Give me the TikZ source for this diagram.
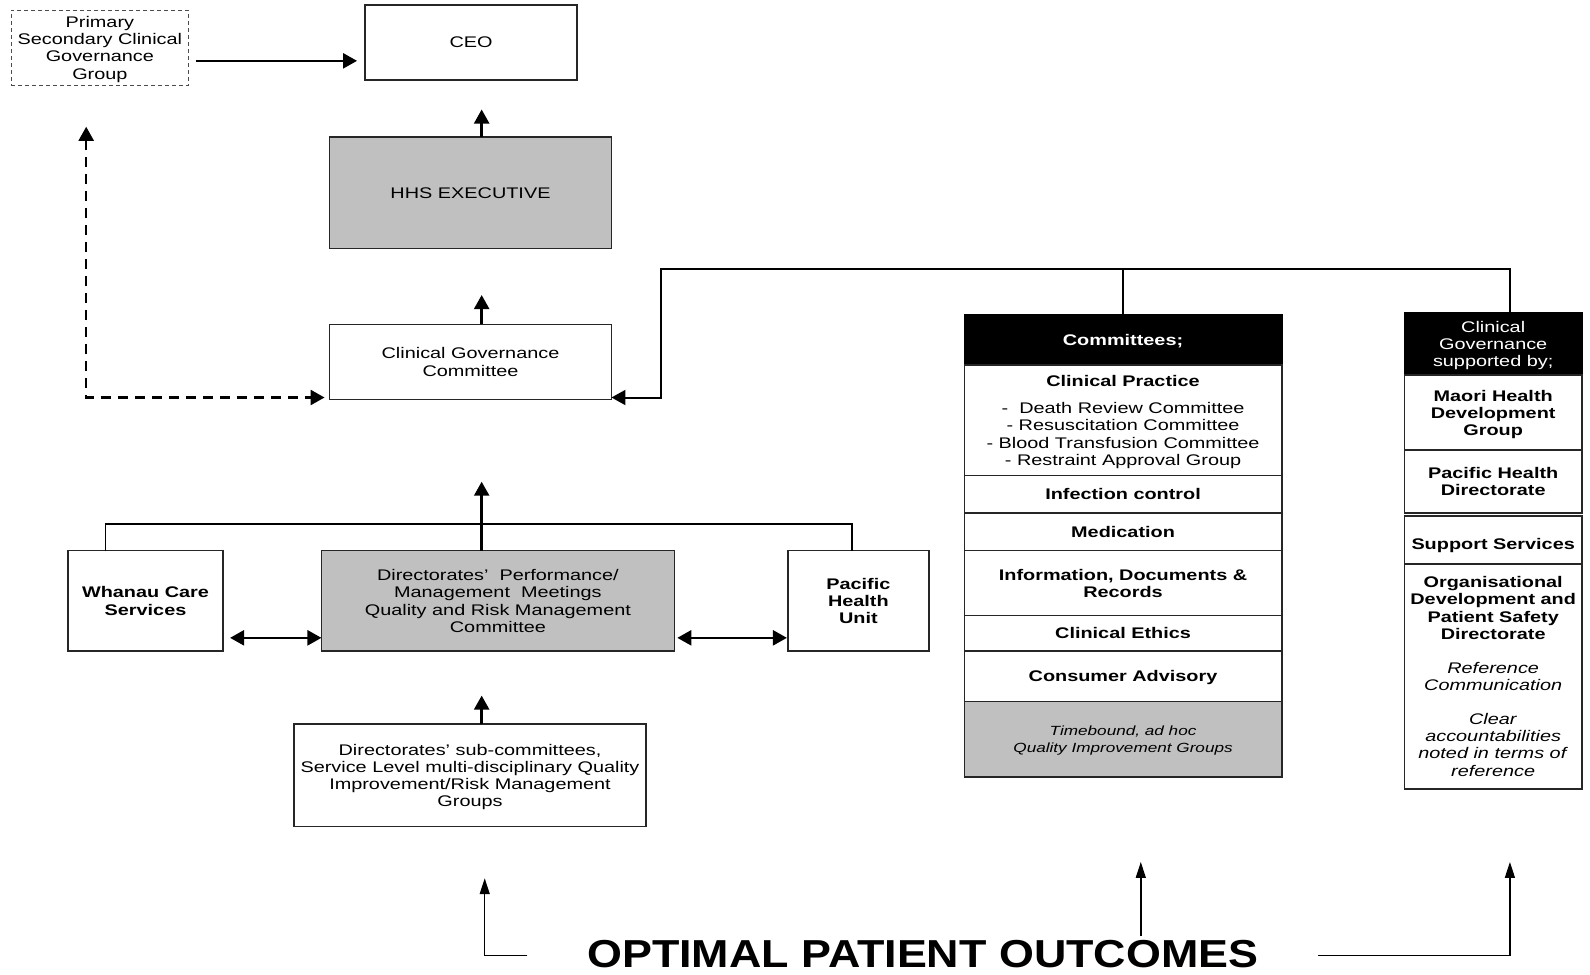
\documentclass[tikz,border=0pt]{standalone}
\usepackage{fontspec}
\setmainfont{Liberation Sans}[FakeStretch=1.29]
\newfontfamily\bigfont{Liberation Sans}[FakeStretch=1.15]
\usetikzlibrary{arrows.meta,calc}
\definecolor{boxgray}{RGB}{192,192,192}
\begin{document}
\begin{tikzpicture}[x=0.5071pt,y=-0.5071pt,
  every node/.style={inner sep=0pt, outer sep=0pt},
  rect/.style n args={4}{at={({(#1+#3)/2},{(#2+#4)/2})}, minimum width={(#3-#1)*0.5071pt}, minimum height={(#4-#2)*0.5071pt}},
  txt/.style={align=center, text depth=0pt, font=\fontsize{7.7}{8.6}\selectfont},
  bld/.style={font=\fontsize{7.7}{8.6}\selectfont\bfseries},
  bx/.style={draw=black!85, line width=0.75pt, txt},
  gbx/.style={bx, fill=boxgray},
  hbx/.style={draw=black, fill=black, text=white, line width=0.75pt, txt},
  ln/.style={line width=0.8pt, draw=black},
  arr/.style={line width=1.2pt, -{Triangle[length=7pt,width=7.5pt]}},
  darr/.style={line width=1.2pt, {Triangle[length=7pt,width=7.5pt]}-{Triangle[length=7pt,width=7.5pt]}},
  dsh/.style={line width=1.2pt, dash pattern=on 5pt off 3.5pt, {Triangle[length=7pt,width=7.5pt]}-{Triangle[length=7pt,width=7.5pt]}},
  tarr/.style={line width=0.7pt, -{Triangle[length=8pt,width=5pt]}},
]
\useasboundingbox (0,0) rectangle (1568,961);

% helper coordinates
\coordinate (y60) at (0,60);
\coordinate (y265) at (0,265);
\coordinate (y392) at (0,392);
\coordinate (y517) at (0,517);
\coordinate (y629) at (0,629);
\coordinate (x85) at (85,0);
\coordinate (x104) at (104,0);
\coordinate (x475) at (475,0);
\coordinate (x478) at (478,0);
\coordinate (x652) at (652,0);
\coordinate (x840) at (840,0);
\coordinate (x1125) at (1125,0);
\coordinate (x1489) at (1489,0);
\coordinate (bl) at (520,942);
\coordinate (br) at (1300,942);

% left / centre nodes
\node[bx, draw=black!70, line width=0.5pt, dash pattern=on 2pt off 1.5pt, rect={11}{10}{186}{84}] (prim) {Primary\\Secondary Clinical\\Governance\\Group};
\node[bx, rect={360}{5}{569}{79}] (ceo) {CEO};
\node[gbx, rect={325}{135}{603}{245}] (hhs) {HHS EXECUTIVE};
\node[bx, rect={325}{320}{603}{394}] (cgc) {Clinical Governance\\Committee};
\node[bx, bld, rect={67}{543}{220}{642}] (wh) {Whanau Care\\Services};
\node[gbx, rect={317}{543}{665}{642}] (dir) {Directorates’~ Performance/\\Management~ Meetings\\Quality and Risk Management\\Committee};
\node[bx, bld, rect={777}{543}{916}{642}] (ph) {Pacific\\Health\\Unit};
\node[bx, rect={290}{714}{637}{815}] (sub) {Directorates’ sub-committees,\\Service Level multi-disciplinary Quality\\Improvement/Risk Management\\Groups};

% committees column
\node[hbx, bld, rect={951}{310}{1264}{360}] (comm) {Committees;};
\node[bx, rect={951}{360}{1264}{469}] (cp) {\textbf{Clinical Practice}\\[5pt]-~ Death Review Committee\\- Resuscitation Committee\\- Blood Transfusion Committee\\- Restraint Approval Group};
\node[bx, bld, rect={951}{469}{1264}{506}] (inf) {Infection control};
\node[bx, bld, rect={951}{506}{1264}{543}] (med) {Medication};
\node[bx, bld, rect={951}{543}{1264}{607}] (info) {Information, Documents \&\\Records};
\node[bx, bld, rect={951}{607}{1264}{642}] (eth) {Clinical Ethics};
\node[bx, bld, rect={951}{642}{1264}{692}] (cons) {Consumer Advisory};
\node[gbx, font=\fontsize{6.65}{8.1}\selectfont\itshape, rect={951}{692}{1264}{766}] (tb) {Timebound, ad hoc\\Quality Improvement Groups};

% right column
\node[hbx, rect={1385}{308}{1560}{370}] (rh) {Clinical\\Governance\\supported by;};
\node[bx, bld, rect={1385}{370}{1560}{444}] (mao) {Maori Health\\Development\\Group};
\node[bx, bld, rect={1385}{444}{1560}{506}] (pcd) {Pacific Health\\Directorate};
\node[bx, bld, rect={1385}{509}{1560}{556}] (sup) {\raisebox{-2pt}[5.5pt][0pt]{Support Services}};
\node[bx, rect={1385}{556}{1560}{778}] (org) {\textbf{Organisational}\\\textbf{Development and}\\\textbf{Patient Safety}\\\textbf{Directorate}\\[8.6pt]\textit{Reference}\\\textit{Communication}\\[8.2pt]\textit{Clear}\\\textit{accountabilities}\\\textit{noted in terms of}\\\textit{reference}};

% bottom text
\node[font=\bigfont\fontsize{19.5}{22}\selectfont\bfseries] (opt) at (910,941) {OPTIMAL PATIENT OUTCOMES};

% connectors
\draw[arr, shorten <=3.5pt, shorten >=4pt] (prim.east |- y60) -- (ceo.west |- y60);
\draw[arr, shorten >=14.7pt] (hhs.north -| x475) -- (ceo.south -| x475);
\draw[arr, shorten >=23.3pt] (cgc.north -| x475) -- (hhs.south -| x475);
\draw[dsh, shorten <=20.8pt, shorten >=2.5pt] (prim.south -| x85) -- (x85 |- y392) -- (cgc.west |- y392);

\draw[ln] (comm.north) -- (comm.north |- y265);
\draw[ln, line width=1pt, -{Triangle[length=7pt,width=7.5pt]}] (rh.north -| x1489) -- (x1489 |- y265) -- (x652 |- y265) -- (x652 |- y392) -- (cgc.east |- y392);

\draw[ln] (wh.north -| x104) -- (x104 |- y517) -- (x840 |- y517) -- (ph.north -| x840);
\draw[arr, shorten >=41.1pt] (dir.north -| x475) -- (cgc.south -| x475);
\draw[darr, shorten <=3.5pt] (wh.east |- y629) -- (dir.west |- y629);
\draw[darr, shorten <=1.5pt, shorten >=0.5pt] (dir.east |- y629) -- (ph.west |- y629);
\draw[arr, shorten >=22.3pt] (sub.north -| x475) -- (dir.south -| x475);

\draw[tarr, shorten >=25.9pt] (bl) -- (bl -| x478) -- (sub.south -| x478);
\draw[tarr, shorten <=2pt, shorten >=42.6pt] (opt.north -| x1125) -- (tb.south -| x1125);
\draw[tarr, shorten >=36.5pt] (br) -- (br -| x1489) -- (org.south -| x1489);
\end{tikzpicture}
\end{document}
